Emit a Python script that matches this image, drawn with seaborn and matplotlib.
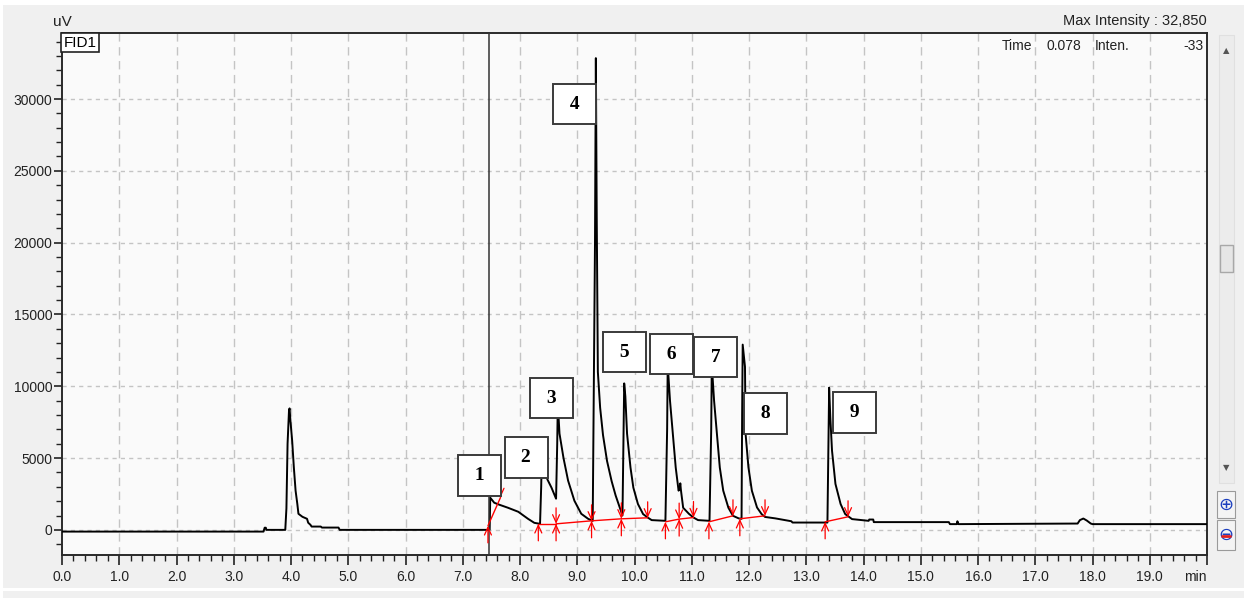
import numpy as np
import pandas as pd
import matplotlib
matplotlib.use("Agg")
import matplotlib.pyplot as plt
import seaborn as sns
from matplotlib.ticker import MultipleLocator, FixedLocator, FixedFormatter
from matplotlib.patches import Rectangle
from matplotlib.lines import Line2D

# ---------------- data ----------------
time_min = [0.00, 3.52, 3.54, 3.56, 3.57, 3.90, 3.92, 3.94, 3.965, 3.975, 3.99, 4.02, 4.05, 4.08,
            4.11, 4.13, 4.20, 4.28, 4.30, 4.34, 4.36, 4.52, 4.54, 4.83, 4.85,
            7.47, 7.48, 7.55, 7.64, 7.79, 7.97, 8.14, 8.25, 8.35,
            8.37, 8.38, 8.42, 8.48, 8.55, 8.63,
            8.65, 8.66, 8.69, 8.76, 8.84, 8.95, 9.07, 9.19, 9.27,
            9.31, 9.325, 9.34, 9.36, 9.40, 9.45, 9.52, 9.60, 9.67, 9.73, 9.79,
            9.81, 9.82, 9.84, 9.87, 9.93, 9.98, 10.06, 10.15, 10.23, 10.30, 10.54,
            10.57, 10.58, 10.62, 10.67, 10.72, 10.77, 10.79, 10.80, 10.81, 10.85, 10.95, 11.03, 11.11, 11.31,
            11.34, 11.35, 11.39, 11.44, 11.49, 11.55, 11.64, 11.72, 11.82, 11.87,
            11.88, 11.89, 11.93, 11.94, 11.99, 12.05, 12.14, 12.22, 12.28, 12.46, 12.74, 12.76, 13.37,
            13.39, 13.40, 13.42, 13.45, 13.51, 13.60, 13.68, 13.80, 13.98, 14.09,
            14.10, 14.17, 14.18, 15.49, 15.51, 15.63, 15.64, 15.66, 17.74, 17.78, 17.84, 17.90, 17.97,
            18.00, 20.00]
intensity_uv = [-120, -120, 150, 150, 0, 0, 1500, 6000, 8300, 8460, 7600, 6220, 4340, 2730,
                1820, 1120, 910, 770, 500, 350, 230, 230, 160, 160, 0,
                0, 2240, 1890, 1750, 1540, 1260, 770, 490, 420,
                3000, 5000, 4200, 3500, 2940, 2170,
                6000, 8800, 6700, 5000, 3430, 2030, 1120, 770, 630,
                20000, 32850, 22000, 11000, 8500, 6600, 4800, 3400, 2400, 1700, 1000,
                7000, 10200, 9300, 6700, 4340, 2940, 1800, 1100, 860, 680, 630,
                7000, 11500, 9000, 6700, 4340, 2730, 2900, 3240, 2800, 1540, 1120, 860, 680, 630,
                7000, 11500, 9000, 6700, 4340, 2730, 1540, 980, 800, 770,
                8000, 12900, 11350, 6700, 4360, 2730, 1560, 1100, 900, 800, 600, 510, 510,
                7000, 9900, 7850, 5520, 3200, 1800, 1100, 750, 680, 630,
                720, 720, 540, 540, 400, 400, 600, 400, 440, 680, 790, 650, 440,
                400, 400]

# peak labels
peak_ids = ["1", "2", "3", "4", "5", "6", "7", "8", "9"]
label_time = [7.29, 8.11, 8.55, 8.95, 9.83, 10.65, 11.42, 12.29, 13.85]
label_uv = [3780, 5035, 9160, 29650, 12380, 12240, 12030, 8110, 8180]

# integration baselines (start/end of each integrated peak)
seg_start_t = [7.44, 8.32, 8.63, 9.25, 9.77, 10.54, 10.78, 11.30, 11.84, 13.33]
seg_start_v = [280, 420, 420, 630, 770, 560, 750, 560, 770, 560]
seg_end_t = [7.66, 8.63, 9.25, 9.77, 10.23, 10.78, 11.03, 11.72, 12.28, 13.73]
seg_end_v = [2260, 420, 630, 770, 840, 750, 860, 980, 980, 910]

x_ticks = list(range(0, 21))
x_tick_labels = [f"{t:.1f}" for t in range(0, 20)] + ["min"]
y_ticks = [0, 5000, 10000, 15000, 20000, 25000, 30000]
y_tick_labels = [str(v) for v in y_ticks]

cursor_time = 7.45
max_intensity_text = "Max Intensity : 32,850"
cursor_time_text = "0.078"
cursor_inten_text = "-33"
channel_name = "FID1"
y_unit = "uV"

# ---------------- style ----------------
sns.set_style("white")
ui_font = ["Liberation Sans Narrow", "Liberation Sans", "DejaVu Sans"]
plt.rcParams["font.family"] = ui_font

W, H = 1247, 598
fig = plt.figure(figsize=(W / 100, H / 100), dpi=100)
fig.patch.set_facecolor("white")


def fx(px):
    return px / W


def fy(py):
    return 1 - py / H


# window background
fig.patches.append(Rectangle((fx(3), fy(588)), fx(1244) - fx(3), fy(5) - fy(588),
                             transform=fig.transFigure, facecolor="#f0f0f0", edgecolor="none", zorder=-10))
fig.patches.append(Rectangle((fx(3), fy(598)), fx(1244) - fx(3), fy(591) - fy(598),
                             transform=fig.transFigure, facecolor="#f0f0f0", edgecolor="none", zorder=-10))

ax_left, ax_right, ax_top, ax_bottom = 62, 1207, 33, 555
ax = fig.add_axes([fx(ax_left), fy(ax_bottom), fx(ax_right) - fx(ax_left), fy(ax_top) - fy(ax_bottom)])
ax.set_zorder(5)
ax.set_facecolor("#fafafa")

df = pd.DataFrame({"time": time_min, "uV": intensity_uv})
sns.lineplot(data=df, x="time", y="uV", ax=ax, color="black", lw=1.4, sort=False,
             estimator=None, zorder=3)

ax.set_xlim(0, 20)
ax.set_ylim(-1750, 34600)

# grid
for xt in x_ticks[1:-1]:
    ax.axvline(xt, color="#c4c4c4", lw=1, ls=(0, (6, 4)), zorder=1)
for yt in y_ticks:
    ax.axhline(yt, color="#c4c4c4", lw=1, ls=(0, (3, 3)), zorder=1)

# ticks
ax.xaxis.set_major_locator(FixedLocator(x_ticks))
ax.xaxis.set_major_formatter(FixedFormatter(x_tick_labels))
ax.xaxis.set_minor_locator(MultipleLocator(0.2))
ax.yaxis.set_major_locator(FixedLocator(y_ticks))
ax.yaxis.set_major_formatter(FixedFormatter(y_tick_labels))
ax.yaxis.set_minor_locator(MultipleLocator(1000))
ax.tick_params(axis="x", which="major", direction="out", length=7, width=1.2, color="#222222",
               labelsize=10, labelcolor="#222222", pad=4, bottom=True)
ax.tick_params(axis="x", which="minor", direction="out", length=4, width=1.0, color="#222222", bottom=True)
ax.tick_params(axis="y", which="major", direction="out", length=6, width=1.2, color="#222222",
               labelsize=10, labelcolor="#222222", pad=1, left=True)
ax.tick_params(axis="y", which="minor", direction="out", length=4, width=1.0, color="#222222", left=True)
ax.set_xlabel("")
ax.set_ylabel("")
for sp in ax.spines.values():
    sp.set_color("#2a2a2a")
    sp.set_linewidth(1.4)
    sp.set_visible(True)
ax.get_xticklabels()[-1].set_horizontalalignment("right")

# cursor
ax.axvline(cursor_time, color="#333333", lw=1.1, zorder=4)

# integration baselines with markers
for st, sv, et, ev in zip(seg_start_t, seg_start_v, seg_end_t, seg_end_v):
    ax.plot([st, et], [sv, ev], color="red", lw=1.0, zorder=5)
arrow_kw = dict(arrowstyle="->,head_length=0.55,head_width=0.25", color="red", lw=0.9, shrinkA=0, shrinkB=0)
for st, sv in zip(seg_start_t, seg_start_v):
    ax.annotate("", xy=(st, sv), xytext=(0, -17), textcoords="offset pixels", arrowprops=arrow_kw, zorder=5)
for et, ev in zip(seg_end_t, seg_end_v):
    ax.annotate("", xy=(et, ev), xytext=(0, 16), textcoords="offset pixels", arrowprops=arrow_kw, zorder=5)

# peak number boxes
for pid, lt, lv in zip(peak_ids, label_time, label_uv):
    ax.text(lt, lv, f" {pid} ", ha="center", va="center", family=["Liberation Serif", "DejaVu Serif"],
            fontweight="bold", fontsize=14, color="black", zorder=10,
            bbox=dict(boxstyle="square,pad=0.6", facecolor="white", edgecolor="#3a3a3a", lw=1.4))

# channel tag
ax.text(0.0015, 0.995, channel_name, transform=ax.transAxes, ha="left", va="top", fontsize=11,
        color="black", zorder=10,
        bbox=dict(boxstyle="square,pad=0.15", facecolor="white", edgecolor="#222222", lw=1.2))

# cursor readout
ax.text(fx(1032), fy(46), "Time", transform=fig.transFigure, ha="right", va="center", fontsize=10, color="#222222")
ax.text(fx(1064), fy(46), cursor_time_text, transform=fig.transFigure, ha="center", va="center", fontsize=10,
        color="#222222")
ax.text(fx(1095), fy(46), "Inten.", transform=fig.transFigure, ha="left", va="center", fontsize=10, color="#222222")
ax.text(fx(1204), fy(46), cursor_inten_text, transform=fig.transFigure, ha="right", va="center", fontsize=10,
        color="#222222")

# header texts
fig.text(fx(62), fy(22), y_unit, ha="center", va="center", fontsize=11, color="#222222")
fig.text(fx(1207), fy(21), max_intensity_text, ha="right", va="center", fontsize=10.5, color="#222222")

# scrollbar & zoom buttons
fig.patches.append(Rectangle((fx(1219), fy(483)), fx(1234) - fx(1219), fy(35) - fy(483),
                             transform=fig.transFigure, facecolor="#ececec", edgecolor="#e0e0e0", lw=0.8))
fig.patches.append(Rectangle((fx(1220), fy(272)), fx(1233) - fx(1220), fy(245) - fy(272),
                             transform=fig.transFigure, facecolor="#e6e6e6", edgecolor="#a8a8a8", lw=1.0))
fig.text(fx(1226.5), fy(51), "\u25b2", ha="center", va="center", fontsize=6, color="#555555", family="DejaVu Sans")
fig.text(fx(1226.5), fy(468), "\u25bc", ha="center", va="center", fontsize=6, color="#555555", family="DejaVu Sans")
for top, bot in [(491, 518), (520, 550)]:
    fig.patches.append(Rectangle((fx(1217), fy(bot)), fx(1235) - fx(1217), fy(top) - fy(bot),
                                 transform=fig.transFigure, facecolor="#f4f4f4", edgecolor="#9a9a9a", lw=0.8))
fig.text(fx(1226), fy(505), "\u2295", ha="center", va="center", fontsize=13, color="#1c3fbf", family="DejaVu Sans")
fig.text(fx(1226), fy(535), "\u2296", ha="center", va="center", fontsize=13, color="#1c3fbf", family="DejaVu Sans")
fig.lines.append(Line2D([fx(1222), fx(1230)], [fy(535.5), fy(535.5)], transform=fig.transFigure,
                        color="#e02020", lw=2, zorder=10))

fig.savefig("out.png", dpi=100, facecolor=fig.get_facecolor())
